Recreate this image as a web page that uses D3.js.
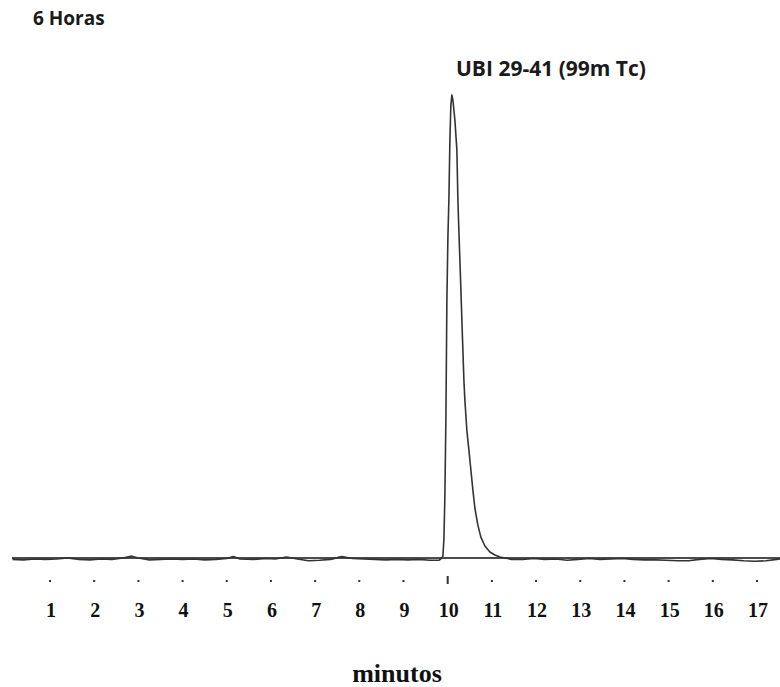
<!DOCTYPE html>
<html><head><meta charset="utf-8">
<script src="https://cdn.jsdelivr.net/npm/d3@7"></script>
<style>body{margin:0;background:#fff}svg{display:block}</style>
</head><body>
<script>
const titleText = "6 Horas";
const peakLabel = "UBI 29-41 (99m Tc)";
const xLabel = "minutos";
const tickValues = [1,2,3,4,5,6,7,8,9,10,11,12,13,14,15,16,17];
// chromatogram trace: time (min), signal (% of peak height)
const sigTime = [0.15,0.4,0.65,0.9,1.15,1.4,1.65,1.9,2.15,2.4,2.65,2.85,3.0,3.25,3.5,3.75,4.0,4.25,4.5,4.75,5.0,5.15,5.3,5.6,5.9,6.1,6.35,6.6,6.85,7.1,7.35,7.6,7.85,8.1,8.35,8.6,8.85,9.1,9.35,9.6,9.8,
  9.869,9.891,9.914,9.937,9.959,9.982,10.005,10.027,10.05,10.072,10.095,10.118,10.163,10.208,10.231,10.253,10.276,10.299,10.321,10.344,10.367,10.389,10.434,10.48,10.525,10.57,10.615,10.683,10.751,10.842,10.955,11.068,11.181,11.294,
  11.45,11.7,11.95,12.2,12.45,12.7,12.95,13.2,13.45,13.7,13.95,14.2,14.45,14.7,14.95,15.2,15.45,15.7,15.95,16.2,16.45,16.7,16.95,17.2,17.45,17.55];
const sigValue = [-0.3,-0.4,-0.2,-0.3,-0.2,0,-0.3,-0.4,-0.2,-0.3,0,0.4,0,-0.4,-0.3,-0.2,-0.3,-0.2,-0.4,-0.3,-0.1,0.3,-0.2,-0.3,-0.1,-0.2,0.2,-0.2,-0.6,-0.5,-0.3,0.3,-0.1,-0.2,-0.3,-0.4,-0.3,-0.4,-0.3,-0.5,-0.5,
  0,0.4,3.9,13.6,29.8,55.7,69.3,77.3,90.3,97.8,100,98.9,94.6,88.1,77.3,70.8,64.4,57.9,51.4,44.9,38.4,34.1,27.6,23.3,19.0,14.7,10.8,7.1,4.5,2.6,1.3,0.65,0.2,0,
  -0.3,-0.3,-0.1,-0.3,-0.2,-0.5,-0.3,-0.1,-0.3,-0.2,-0.1,-0.3,-0.4,-0.4,-0.5,-0.6,-0.6,-0.3,-0.1,-0.3,-0.4,-0.6,-0.7,-0.6,-0.3,-0.2];
const baseDomain = [0.14, 17.6];

const W = 780, H = 687;
const svg = d3.select("body").append("svg").attr("width", W).attr("height", H);
const x = d3.scaleLinear().domain([1,17]).range([50,757]);
const y = d3.scaleLinear().domain([0,100]).range([558,95]);

// baseline
svg.append("line")
  .attr("x1", x(baseDomain[0])).attr("x2", x(baseDomain[1]))
  .attr("y1", y(0)).attr("y2", y(0))
  .attr("stroke", "#111").attr("stroke-width", 1.6);

// trace
const data = sigTime.map((t,i)=>[t, sigValue[i]]);
svg.append("path").datum(data)
  .attr("fill","none").attr("stroke","#333").attr("stroke-width",1.6)
  .attr("stroke-linejoin","round")
  .attr("d", d3.line().x(d=>x(d[0])).y(d=>y(d[1])));

// ticks (dots)
svg.selectAll("rect.tk").data(tickValues).join("rect").attr("class","tk")
  .attr("x", d=>x(d)-1).attr("y", d=> d===10 ? 576 : 580)
  .attr("width", 2).attr("height", d=> d===10 ? 8 : 2)
  .attr("fill", "#333");

// tick labels
svg.selectAll("text.tl").data(tickValues).join("text").attr("class","tl")
  .attr("x", d=>x(d)+1).attr("y", 617)
  .attr("text-anchor","middle")
  .attr("font-family","'Liberation Serif','Times New Roman',serif")
  .attr("font-weight","bold").attr("font-size",20).attr("fill","#111")
  .text(d=>d);

svg.append("text").attr("x", 397).attr("y", 682).attr("text-anchor","middle")
  .attr("font-family","'Liberation Serif','Times New Roman',serif")
  .attr("font-weight","bold").attr("font-size",26).attr("fill","#111")
  .text(xLabel);

svg.append("text").attr("x", 33).attr("y", 25)
  .attr("font-family","'Open Sans',sans-serif").attr("font-weight","bold")
  .attr("font-size",19).attr("fill","#1a1a1a").text(titleText);

svg.append("text").attr("x", 456).attr("y", 76)
  .attr("font-family","'Open Sans',sans-serif").attr("font-weight","bold")
  .attr("font-size",21).attr("fill","#1a1a1a").text(peakLabel);
</script>
</body></html>
